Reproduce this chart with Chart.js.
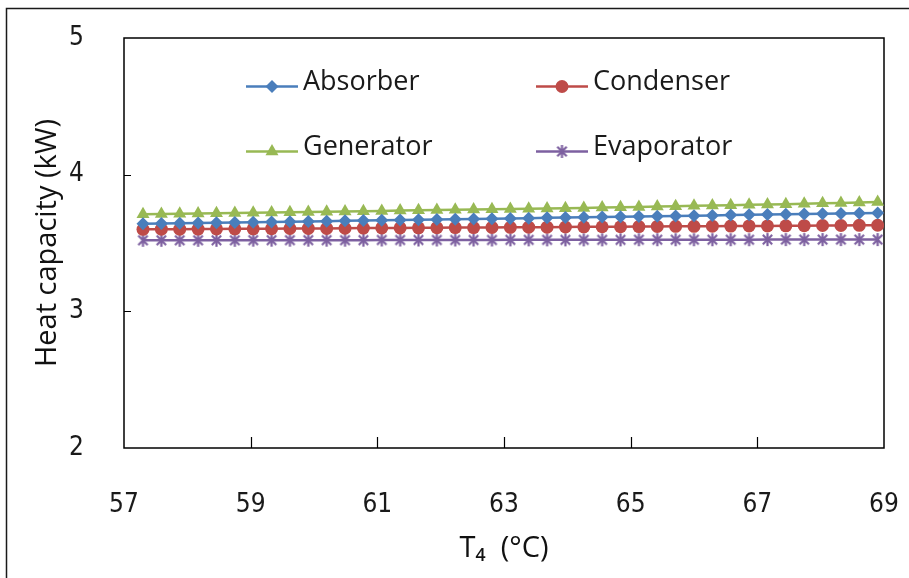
<!DOCTYPE html>
<html><head><meta charset="utf-8">
<script src="https://cdn.jsdelivr.net/npm/chart.js@4.4.1/dist/chart.umd.min.js"></script>
<style>html,body{margin:0;padding:0;background:#fff;}#wrap{width:909px;height:578px;position:relative;}</style>
</head><body><div id="wrap"><canvas id="c" width="909" height="578"></canvas></div>
<script>
// ---- data ----
const temperatures = [57.30,57.59,57.88,58.17,58.46,58.75,59.04,59.33,59.62,59.91,
  60.20,60.49,60.78,61.07,61.36,61.65,61.94,62.23,62.52,62.81,
  63.10,63.39,63.68,63.97,64.26,64.55,64.84,65.13,65.42,65.71,
  66.00,66.29,66.58,66.87,67.16,67.45,67.74,68.03,68.32,68.61,68.90];
const absorber = [3.640,3.642,3.644,3.646,3.648,3.650,3.652,3.654,3.656,3.658,
  3.660,3.662,3.664,3.666,3.668,3.670,3.672,3.674,3.676,3.678,
  3.680,3.682,3.684,3.686,3.688,3.690,3.692,3.694,3.696,3.698,
  3.700,3.702,3.704,3.706,3.708,3.710,3.712,3.714,3.716,3.718,3.720];
const condenser = [3.600,3.601,3.601,3.602,3.603,3.604,3.604,3.605,3.606,3.607,
  3.607,3.608,3.609,3.610,3.610,3.611,3.612,3.613,3.613,3.614,
  3.615,3.616,3.616,3.617,3.618,3.619,3.619,3.620,3.621,3.622,
  3.622,3.623,3.624,3.625,3.625,3.626,3.627,3.628,3.628,3.629,3.630];
const generator = [3.710,3.712,3.714,3.715,3.717,3.719,3.721,3.723,3.725,3.727,
  3.729,3.731,3.733,3.735,3.737,3.739,3.741,3.743,3.745,3.747,
  3.749,3.751,3.753,3.755,3.757,3.760,3.762,3.764,3.767,3.769,
  3.772,3.774,3.777,3.779,3.782,3.784,3.787,3.790,3.793,3.796,3.800];
const evaporator = [3.520,3.520,3.520,3.520,3.520,3.520,3.521,3.521,3.521,3.521,
  3.521,3.521,3.521,3.522,3.522,3.522,3.522,3.522,3.522,3.522,
  3.523,3.523,3.523,3.523,3.523,3.523,3.523,3.524,3.524,3.524,
  3.524,3.524,3.524,3.524,3.525,3.525,3.525,3.525,3.525,3.525,3.525];
const seriesNames = ['Absorber','Condenser','Generator','Evaporator'];
const xTickValues = [57,59,61,63,65,67,69];
const yTickValues = [2,3,4,5];
const xTitle = 'T\u2084  (\u00B0C)';
const yTitle = 'Heat capacity (kW)';

// ---- styles ----
const TEXT_FONT = "'Open Sans','Noto Sans',sans-serif";
const TICK_FONT = "'Liberation Sans Narrow','DejaVu Sans Condensed','Liberation Sans',sans-serif";
const colors = {absorber:'#4A7EBB', condenser:'#BE4B48', generator:'#98B954', evaporator:'#7D60A0'};

function asteriskImage(color, size){
  const c = document.createElement('canvas');
  c.width = size; c.height = size;
  const g = c.getContext('2d');
  g.strokeStyle = color; g.lineWidth = 2.2; g.lineCap = 'butt';
  const m = size/2, r = size/2 - 1;
  const d = r*0.72;
  g.beginPath();
  g.moveTo(m-d, m-d); g.lineTo(m+d, m+d);
  g.moveTo(m+d, m-d); g.lineTo(m-d, m+d);
  g.moveTo(m, m-r); g.lineTo(m, m+r);
  g.stroke();
  return c;
}
const starImg = asteriskImage(colors.evaporator, 15);

function pts(ys){ return temperatures.map((t,i)=>({x:t, y:ys[i]})); }

const datasets = [
  {label:seriesNames[0], data:pts(absorber), borderColor:colors.absorber, backgroundColor:colors.absorber, pointStyle:'rectRot', pointRadius:6.5, borderWidth:2.5},
  {label:seriesNames[1], data:pts(condenser), borderColor:colors.condenser, backgroundColor:colors.condenser, pointStyle:'circle', pointRadius:6.5, borderWidth:2.5},
  {label:seriesNames[2], data:pts(generator), borderColor:colors.generator, backgroundColor:colors.generator, pointStyle:'triangle', pointRadius:7.5, borderWidth:2.5},
  {label:seriesNames[3], data:pts(evaporator), borderColor:colors.evaporator, backgroundColor:colors.evaporator, pointStyle:starImg, pointRadius:7, borderWidth:2.5}
];
datasets.forEach(d=>{ d.showLine = true; d.pointBorderWidth = 0; d.pointHoverRadius = d.pointRadius; d.fill = false; d.tension = 0; });

const framePlugin = {
  id:'frame',
  beforeDraw(chart){
    const ctx = chart.ctx;
    ctx.save();
    ctx.fillStyle = '#fff';
    ctx.fillRect(0,0,chart.width,chart.height);
    ctx.strokeStyle = '#1a1a1a'; ctx.lineWidth = 1.5;
    ctx.beginPath();
    ctx.moveTo(6.5, chart.height); ctx.lineTo(6.5, 8.5); ctx.lineTo(chart.width, 8.5);
    ctx.stroke();
    ctx.restore();
  },
  beforeDatasetsDraw(chart){
    const {ctx, chartArea:a, scales:{x, y}} = chart;
    ctx.save();
    ctx.strokeStyle = '#000'; ctx.lineWidth = 1.5;
    ctx.strokeRect(a.left, a.top, a.right-a.left, a.bottom-a.top);
    ctx.lineWidth = 1.2;
    ctx.beginPath();
    xTickValues.slice(1,-1).forEach(v=>{ const px = Math.round(x.getPixelForValue(v))+0.5; ctx.moveTo(px, a.bottom); ctx.lineTo(px, a.bottom-11); });
    yTickValues.slice(1,-1).forEach(v=>{ const py = Math.round(y.getPixelForValue(v))+0.5; ctx.moveTo(a.left, py); ctx.lineTo(a.left+7, py); });
    ctx.stroke();
    ctx.restore();
  }
};

const legendPlugin = {
  id:'customLegend',
  afterDatasetsDraw(chart){
    const ctx = chart.ctx;
    const cols = [246, 536], rows = [86.5, 151.5], lineLen = 52;
    ctx.save();
    chart.data.datasets.forEach((ds,i)=>{
      const x0 = cols[i%2], y0 = rows[Math.floor(i/2)];
      ctx.strokeStyle = ds.borderColor; ctx.lineWidth = 2.5;
      ctx.beginPath(); ctx.moveTo(x0, y0); ctx.lineTo(x0+lineLen, y0); ctx.stroke();
      ctx.fillStyle = ds.backgroundColor; ctx.strokeStyle = ds.borderColor;
      Chart.helpers.drawPoint(ctx, {pointStyle: ds.pointStyle, radius: ds.pointRadius, rotation:0, borderWidth:0}, x0+lineLen/2, y0);
      ctx.fillStyle = '#1a1a1a';
      ctx.font = "27px " + TEXT_FONT;
      ctx.textBaseline = 'middle'; ctx.textAlign = 'left';
      ctx.fillText(ds.label, x0+lineLen+5, y0-4.5);
    });
    ctx.restore();
  }
};

new Chart(document.getElementById('c'), {
  type:'scatter',
  data:{datasets},
  plugins:[framePlugin, legendPlugin],
  options:{
    responsive:false, animation:false, devicePixelRatio:1,
    layout:{padding:{left:0, right:25, top:38, bottom:0}},
    plugins:{legend:{display:false}, tooltip:{enabled:false}},
    elements:{line:{borderWidth:2.5}},
    scales:{
      x:{type:'linear', min:57, max:69,
        afterBuildTicks(s){ s.ticks = xTickValues.map(v=>({value:v})); },
        afterFit(s){ s.height = 130; s.paddingLeft = 0; s.paddingRight = 0; },
        grid:{display:false}, border:{display:false},
        ticks:{font:{family:TICK_FONT, size:26}, color:'#1a1a1a', padding:34, maxRotation:0, autoSkip:false},
        title:{display:true, text:xTitle, font:{family:TEXT_FONT, size:29}, color:'#111', padding:{top:0, bottom:12}}
      },
      y:{type:'linear', min:2, max:5,
        afterBuildTicks(s){ s.ticks = yTickValues.map(v=>({value:v})); },
        afterFit(s){ s.width = 124; s.paddingTop = 0; s.paddingBottom = 0; },
        grid:{display:false}, border:{display:false},
        ticks:{font:{family:TICK_FONT, size:26}, color:'#1a1a1a', padding:32},
        title:{display:true, text:yTitle, font:{family:TEXT_FONT, size:29}, color:'#111', padding:{top:30, bottom:0}}
      }
    }
  }
});
</script></body></html>
